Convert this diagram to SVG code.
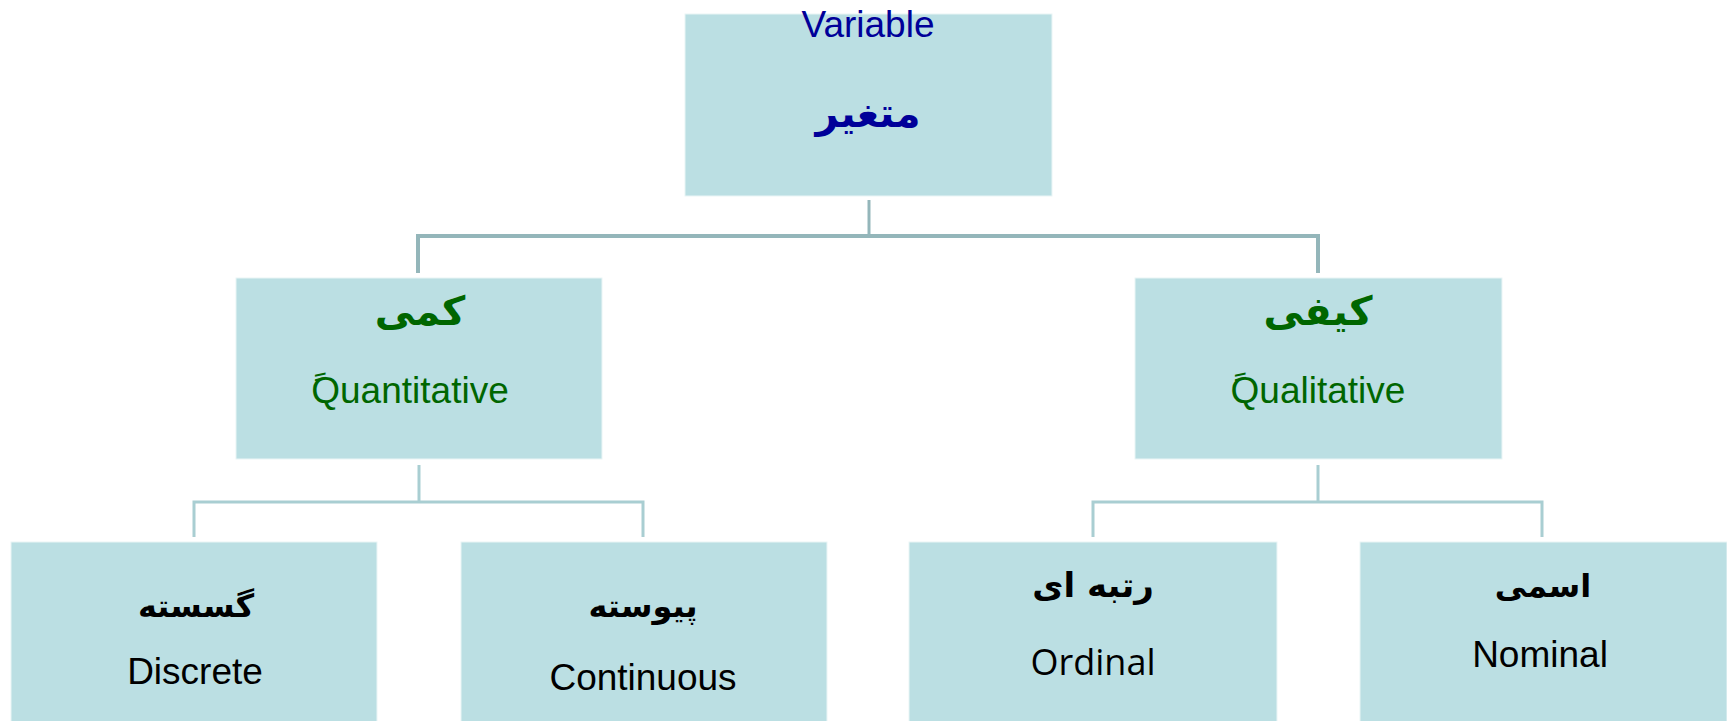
<svg xmlns="http://www.w3.org/2000/svg" width="1727" height="721" viewBox="0 0 1727 721">
<style>
.box{fill:#BBDFE3;stroke:#EAF5F6;stroke-width:1}
.en{font-family:"Liberation Sans",Arial,sans-serif;font-size:37px;text-anchor:middle}
.fa{font-family:"DejaVu Sans",sans-serif;font-weight:bold;text-anchor:middle}
.c1{stroke:#94B6BA;fill:none}
.c2{stroke:#A9CED2;fill:none}
</style>
<rect width="1727" height="721" fill="#FFFFFF"/>
<g id="connectors">
<line class="c1" x1="869" y1="200" x2="869" y2="236" stroke-width="3"/>
<polyline class="c1" points="418,273 418,236 1318,236 1318,273" stroke-width="4"/>
<line class="c2" x1="419" y1="465" x2="419" y2="502" stroke-width="3"/>
<polyline class="c2" points="194,537 194,502 643,502 643,537" stroke-width="3"/>
<line class="c2" x1="1318" y1="465" x2="1318" y2="502" stroke-width="3"/>
<polyline class="c2" points="1093,537 1093,502 1542,502 1542,537" stroke-width="3"/>
</g>
<g id="node-variable">
<rect class="box" x="685" y="14" width="367" height="182"/>
<text class="en" x="868" y="37" fill="#000099">Variable</text>
<text class="fa" x="868" y="127" font-size="40" fill="#000099">متغیر</text>
</g>
<g id="node-quantitative">
<rect class="box" x="236" y="278" width="366" height="181"/>
<text class="fa" x="420" y="325" font-size="40" fill="#006600">کمی</text>
<text class="en" x="410" y="403" fill="#006600">ًQuantitative</text>
</g>
<g id="node-qualitative">
<rect class="box" x="1135" y="278" width="367" height="181"/>
<text class="fa" x="1318" y="325" font-size="40" fill="#006600">کیفی</text>
<text class="en" x="1318" y="403" fill="#006600">ًQualitative</text>
</g>
<g id="node-discrete">
<rect class="box" x="11" y="542" width="366" height="182"/>
<text class="fa" x="196" y="617" font-size="32" fill="#000000">گسسته</text>
<text class="en" x="195" y="684" fill="#000000">Discrete</text>
</g>
<g id="node-continuous">
<rect class="box" x="461" y="542" width="366" height="182"/>
<text class="fa" x="643" y="617" font-size="32" fill="#000000">پیوسته</text>
<text class="en" x="643" y="690" fill="#000000">Continuous</text>
</g>
<g id="node-ordinal">
<rect class="box" x="909" y="542" width="368" height="182"/>
<text class="fa" x="1093" y="597" font-size="34" fill="#000000">رتبه ای</text>
<text x="1093" y="675" font-family="'Open Sans',sans-serif" font-size="36" text-anchor="middle" fill="#000000">Ordinal</text>
</g>
<g id="node-nominal">
<rect class="box" x="1360" y="542" width="367" height="182"/>
<text class="fa" x="1543" y="597" font-size="32" fill="#000000">اسمی</text>
<text class="en" x="1540" y="667" fill="#000000">Nominal</text>
</g>
</svg>
